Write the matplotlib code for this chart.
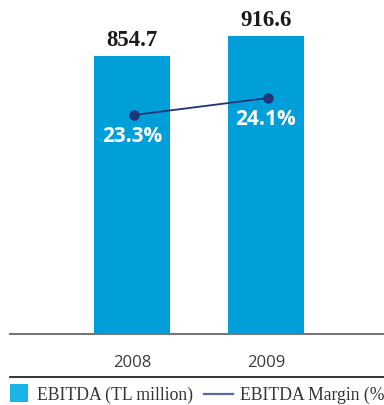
import matplotlib.pyplot as plt
from matplotlib.patches import Rectangle
from matplotlib.lines import Line2D

years = ["2008", "2009"]
ebitda = [854.7, 916.6]
margin = [23.3, 24.1]

bar_color = "#009fd9"
line_color = "#1f3575"

W, H = 384, 406
fig = plt.figure(figsize=(W / 100, H / 100), dpi=100)
ax = fig.add_axes([10 / W, 71 / H, 374 / W, 335 / H])

x = list(range(len(years)))
ax.bar(x, ebitda, width=0.567, color=bar_color, zorder=2)
ax.set_xlim(-0.910, 1.881)
ax.set_ylim(0, 1030)

for xi, v in zip(x, ebitda):
    ax.annotate(f"{v:.1f}", (xi, v), xytext=(0, 4.5), textcoords="offset points",
                ha="center", va="bottom", fontsize=16.5, fontweight="bold",
                family="Liberation Serif", color="#1a1a1a")

for s in ["top", "right", "left"]:
    ax.spines[s].set_visible(False)
ax.spines["bottom"].set_color("#777777")
ax.spines["bottom"].set_linewidth(1.5)
ax.set_yticks([])
ax.set_xticks(x)
ax.set_xticklabels(years, family="Open Sans", fontsize=12, color="#3a3a3a")
ax.tick_params(axis="x", length=0, pad=14.5)

# margin line on its own scale
ax2 = ax.twinx()
ax2.set_ylim(12.994, 28.759)
ax2.axis("off")
ax2.plot([xi + 0.015 for xi in x], margin, color=line_color, lw=1.3,
         marker="o", ms=6.5, zorder=3)
for xi, m in zip(x, margin):
    ax2.annotate(f"{m:.1f}%", (xi, m), xytext=(0, -14.6), textcoords="offset points",
                 ha="center", va="center", fontsize=15, fontweight="bold",
                 family="Open Sans", color="white")

# separator above the legend
fig.add_artist(Line2D([10 / W, 1], [1 - 378 / H] * 2, color="#111111", lw=1.2))

# legend row
fig.add_artist(Rectangle((10 / W, 1 - 403 / H), 18 / W, 18 / H,
                         facecolor="#1bb4e6", edgecolor="none"))
fig.text(37 / W, 1 - 395 / H, "EBITDA (TL million)", ha="left", va="center",
         family="Liberation Serif", fontsize=12.7, color="#333333")
fig.add_artist(Line2D([204 / W, 233 / W], [1 - 395 / H] * 2, color="#5a6ba0", lw=1.6))
fig.text(240 / W, 1 - 395 / H, "EBITDA Margin (%)", ha="left", va="center",
         family="Liberation Serif", fontsize=12.7, color="#333333")

fig.savefig("out.png", dpi=100)
